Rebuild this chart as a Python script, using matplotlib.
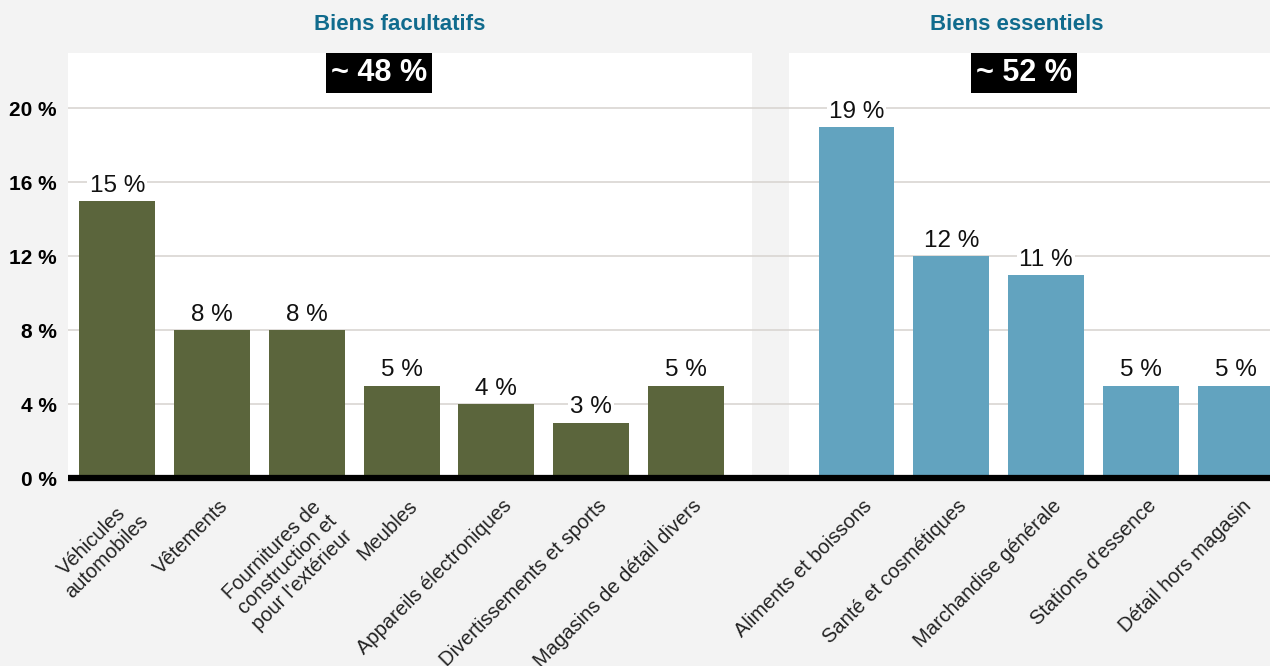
import numpy as np
import matplotlib
matplotlib.use("Agg")
from matplotlib import pyplot as plt
from matplotlib import transforms
from matplotlib.patches import Rectangle

plt.rcParams['font.family'] = ['Liberation Sans', 'DejaVu Sans']

# données
cat_facultatifs = ["Véhicules\nautomobiles", "Vêtements",
                   "Fournitures de\nconstruction et\npour l'extérieur",
                   "Meubles", "Appareils électroniques",
                   "Divertissements et sports", "Magasins de détail divers"]
val_facultatifs = [15, 8, 8, 5, 4, 3, 5]

cat_essentiels = ["Aliments et boissons", "Santé et cosmétiques",
                  "Marchandise générale", "Stations d'essence",
                  "Détail hors magasin"]
val_essentiels = [19, 12, 11, 5, 5]

yticks = [0, 4, 8, 12, 16, 20]
groupes = ["Biens facultatifs", "Biens essentiels"]
parts = ["~ 48 %", "~ 52 %"]

fond = '#f3f3f3'
vert = '#5b653c'
bleu = '#62a3bf'
titre_col = '#106b8d'

fig = plt.figure(figsize=(12.7, 6.66), dpi=100, facecolor=fond)
ax = fig.add_axes([68/1270, 1 - 478/666, 1 - 68/1270, 425/666])
ax.set_facecolor(fond)

x1 = np.arange(len(val_facultatifs))
x2 = np.arange(len(val_essentiels)) + len(val_facultatifs) + 0.8

# panneaux blancs
ax.axvspan(x1[0] - 0.52, x1[-1] + 0.7, color='white', zorder=0, lw=0)
ax.axvspan(x2[0] - 0.71, x2[-1] + 0.4, color='white', zorder=0, lw=0)

ax.set_axisbelow(True)
ax.yaxis.grid(True, color='#d9d6d2', lw=1.2)

b1 = ax.bar(x1, val_facultatifs, width=0.8, color=vert, zorder=2)
b2 = ax.bar(x2, val_essentiels, width=0.8, color=bleu, zorder=2)

for xs, vals in [(x1, val_facultatifs), (x2, val_essentiels)]:
    for x, v in zip(xs, vals):
        ax.annotate(f"{v} %", (x, v), xytext=(0, 3), textcoords='offset points',
                    ha='center', va='bottom', fontsize=17.5, color='#111111',
                    bbox=dict(facecolor='white', edgecolor='none', pad=1.5),
                    zorder=4)

ax.axhline(0, color='black', lw=4.5, clip_on=False, zorder=5,
           solid_capstyle='butt')

ax.set_xlim(x1[0] - 0.52, (1270 - 117) / 94.8)
ax.set_ylim(0, 23)
ax.set_yticks(yticks)
ax.set_yticklabels([f"{v} %" for v in yticks], fontsize=15, fontweight='bold')
ax.tick_params(axis='y', length=0, pad=8)

ax.set_xticks(np.concatenate([x1, x2]))
ax.set_xticklabels(cat_facultatifs + cat_essentiels, rotation=45, ha='right',
                   rotation_mode='anchor', fontsize=14.5, color='#222222',
                   multialignment='center', linespacing=1.15)
ax.tick_params(axis='x', length=0, pad=13)
decal = transforms.ScaledTranslation(6/100, 0, fig.dpi_scale_trans)
for lab in ax.get_xticklabels():
    lab.set_transform(lab.get_transform() + decal)

for s in ax.spines.values():
    s.set_visible(False)

# titres des groupes et encadrés de part
for (cx_t, cx_b), g, p in zip([(400, 379), (1017, 1024)], groupes, parts):
    fig.text(cx_t/1270, 1 - 24/666, g, ha='center', va='center',
             fontsize=16, fontweight='bold', color=titre_col)
    fig.patches.append(Rectangle(((cx_b - 53)/1270, 1 - 93/666), 106/1270, 40/666,
                                 transform=fig.transFigure, facecolor='black',
                                 edgecolor='none', zorder=6))
    fig.text(cx_b/1270, 1 - 73/666, p, ha='center', va='center',
             fontsize=22, fontweight='bold', color='white', zorder=7)

fig.savefig('out.png', dpi=100, facecolor=fond)
